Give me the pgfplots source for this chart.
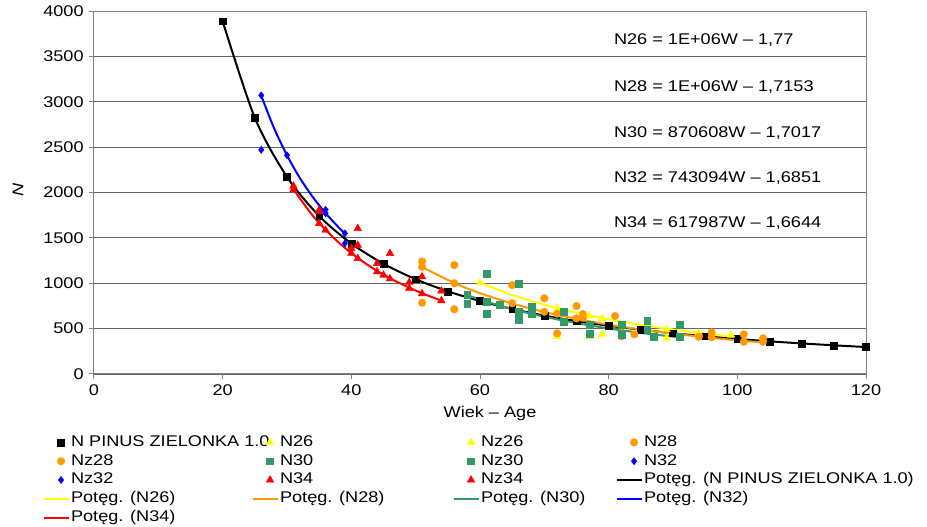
\documentclass[border=0pt]{standalone}
\usepackage{fontspec}
\setmainfont{Liberation Sans}[FakeStretch=1.17]
\usepackage{pgfplots}
\pgfplotsset{compat=1.18}
\definecolor{cyel}{RGB}{255,255,0}
\definecolor{corg}{RGB}{255,153,0}
\definecolor{cgrn}{RGB}{51,153,102}
\definecolor{cblu}{RGB}{0,0,255}
\definecolor{cred}{RGB}{255,0,0}
\definecolor{cgrid}{RGB}{100,100,100}
\newcommand{\fs}{\fontsize{15.5}{18}\selectfont}
\pgfplotsset{
  scat/.style={only marks, mark options={solid},
    legend image code/.code={\path[draw=none,fill=none] (0pt,-4pt) rectangle (25pt,4pt);
      \draw[mark repeat=2,mark phase=2,##1] plot coordinates {(9pt,0pt) (17pt,0pt) (25pt,0pt)};}},
  trend/.style={no marks, line width=2pt, color=#1, smooth,
    legend image code/.code={\path[draw=none,fill=none] (0pt,-4pt) rectangle (25pt,4pt);
      \draw[draw=#1, line width=2pt] (0pt,0pt) -- (25pt,0pt);}},
}
\begin{document}
\fs
\begin{tikzpicture}
\path[use as bounding box] (-94pt,-153pt) rectangle (833pt,374pt);
\begin{axis}[
  scale only axis, width=772pt, height=363pt,
  xmin=0, xmax=120, ymin=0, ymax=4000,
  xtick={0,20,...,120}, ytick={0,500,...,4000},
  ymajorgrids, major grid style={cgrid, line width=0.8pt},
  axis line style={gray, line width=1pt},
  tick style={gray, line width=1pt},
  tick align=outside, major tick length=5pt,
  xtick pos=bottom, ytick pos=left,
  /pgf/number format/assume math mode=true,
  /pgf/number format/1000 sep={},
  ticklabel style={font=\fs},
  clip=false,
  xlabel={Wiek – Age},
  xlabel style={font=\fs, at={(axis description cs:0.513,-0.11)}, anchor=center},
  ylabel={\itshape N},
  ylabel style={font=\fs, at={(axis description cs:-0.0984,0.507)}, anchor=center},
  legend columns=4,
  legend cell align=left,
  legend style={draw=none, fill=none, inner sep=0pt, outer sep=0pt,
    at={(-0.066,-0.1625)}, anchor=north west, column sep=0pt, row sep=0pt,
    font=\fs,
    nodes={inner xsep=1pt, inner ysep=1.4pt, text height=12pt, text depth=4pt}},
]
% scatter series
\addplot[scat, mark=square*, mark size=3.4pt, black] coordinates {
(20,3888)(25,2823)(30,2173)(35,1741)(40,1438)(45,1215)(50,1044)(55,911)(60,804)(65,717)(70,644)(75,583)(80,532)(85,488)(90,449)(95,416)(100,386)(105,360)(110,337)(115,316)(120,297)};
\addlegendentry{\makebox[180pt][l]{N PINUS ZIELONKA 1.0}}
\addplot[scat, mark=triangle*, mark size=4.4pt, cyel] coordinates {
(60,1006)(72,723)(77,639)(79,613)(89,490)(94,450)(99,430)};
\addlegendentry{\makebox[172pt][l]{N26}}
\addplot[scat, mark=triangle*, mark size=4.4pt, cyel] coordinates {
(72,411)(77,410)(79,437)(89,393)};
\addlegendentry{\makebox[134pt][l]{Nz26}}
\addplot[scat, mark=*, mark size=3.8pt, corg] coordinates {
(51,1240)(51,1180)(56,1000)(65,980)(70,834)(75,749)(76,660)(81,639)(82,525)(96,459)(101,437)(104,393)};
\addlegendentry{N28}
\addplot[scat, mark=*, mark size=3.8pt, corg] coordinates {
(51,785)(56,1200)(56,713)(65,779)(70,686)(72,665)(72,448)(75,613)(76,620)(82,415)(84,437)(94,411)(96,405)(101,356)(104,356)};
\addlegendentry{\makebox[180pt][l]{Nz28}}
\addplot[scat, mark=square*, mark size=3.4pt, cgrn] coordinates {
(58,870)(61,796)(63,760)(66,686)(68,741)(73,686)(77,540)(82,540)(86,587)(91,540)};
\addlegendentry{\makebox[172pt][l]{N30}}
\addplot[scat, mark=square*, mark size=3.4pt, cgrn] coordinates {
(58,771)(61,1109)(61,668)(66,999)(66,602)(68,668)(73,576)(77,448)(82,429)(86,485)(87,411)(91,411)};
\addlegendentry{\makebox[134pt][l]{Nz30}}
\addplot[scat, mark=diamond*, mark size=3.6pt, cblu] coordinates {
(26,3070)(30,2410)(35.5,1790)(36,1810)(39,1550)};
\addlegendentry{N32}
\addplot[scat, mark=diamond*, mark size=3.6pt, cblu] coordinates {
(26,2470)(36,1770)(39,1440)};
\addlegendentry{\makebox[180pt][l]{Nz32}}
\addplot[scat, mark=triangle*, mark size=4.4pt, cred] coordinates {
(31,2070)(35,1806)(35,1660)(36,1586)(40,1384)(40,1330)(41,1274)(44,1219)(44,1127)(45,1090)(46,1050)(49,1010)(49,944)(54,808)};
\addlegendentry{\makebox[172pt][l]{N34}}
\addplot[scat, mark=triangle*, mark size=4.4pt, cred] coordinates {
(31,2030)(35,1790)(41,1604)(41,1420)(46,1329)(51,1072)(51,885)(54,915)};
\addlegendentry{\makebox[134pt][l]{Nz34}}
% trend lines
\addplot[trend=black] coordinates {
(20,3888)(25,2823)(30,2173)(35,1741)(40,1438)(45,1215)(50,1044)(55,911)(60,804)(65,717)(70,644)(75,583)(80,532)(85,488)(90,449)(95,416)(100,386)(105,360)(110,337)(115,316)(120,297)};
\addlegendentry{Potęg. (N PINUS ZIELONKA 1.0)}
\addplot[trend=cyel] coordinates {
(60,1006)(65,872)(70,764)(75,676)(80,603)(85,542)(90,490)(95,445)(99,414)};
\addlegendentry{\makebox[180pt][l]{Potęg. (N26)}}
\addplot[trend=corg] coordinates {
(51,1178)(56,1003)(60,891)(65,777)(70,684)(75,608)(80,544)(85,490)(90,445)(95,405)(100,371)(104,347)};
\addlegendentry{\makebox[172pt][l]{Potęg. (N28)}}
\addplot[trend=cgrn] coordinates {
(58,869)(62,776)(66,697)(70,631)(75,561)(80,502)(85,453)(91,404)};
\addlegendentry{\makebox[134pt][l]{Potęg. (N30)}}
\addplot[trend=cblu] coordinates {
(26,3067)(28,2707)(30,2410)(32,2160)(34,1951)(36,1772)(38,1618)(39,1549)};
\addlegendentry{Potęg. (N32)}
\addplot[trend=cred] coordinates {
(31,2036)(34,1745)(37,1517)(40,1332)(43,1181)(46,1056)(50,919)(54,808)};
\addlegendentry{Potęg. (N34)}
% equations
\node[anchor=west, inner sep=0pt, font=\fs] at (axis cs:80.8,3678) {N26 = 1E+06W – 1,77};
\node[anchor=west, inner sep=0pt, font=\fs] at (axis cs:80.8,3161) {N28 = 1E+06W – 1,7153};
\node[anchor=west, inner sep=0pt, font=\fs] at (axis cs:80.8,2654) {N30 = 870608W – 1,7017};
\node[anchor=west, inner sep=0pt, font=\fs] at (axis cs:80.8,2159) {N32 = 743094W – 1,6851};
\node[anchor=west, inner sep=0pt, font=\fs] at (axis cs:80.8,1663) {N34 = 617987W – 1,6644};
\end{axis}
\end{tikzpicture}
\end{document}
